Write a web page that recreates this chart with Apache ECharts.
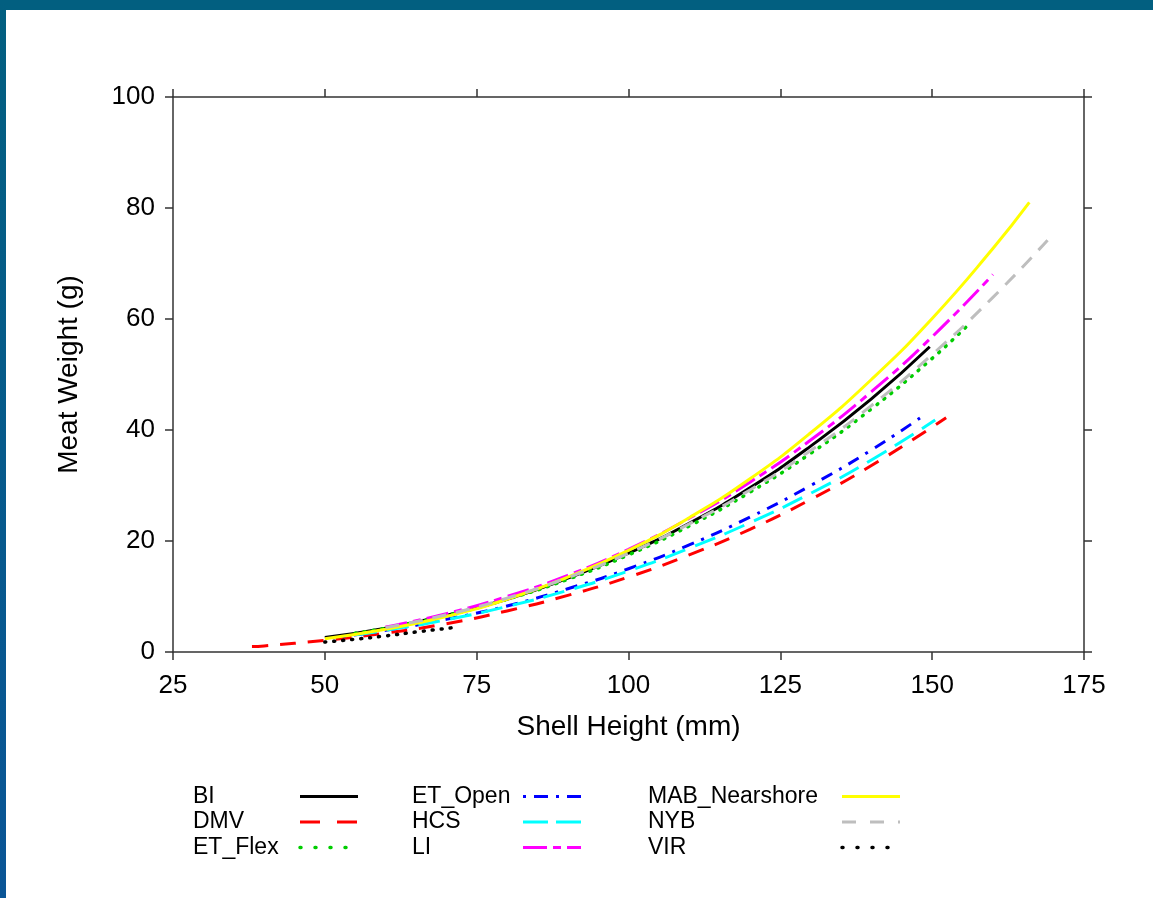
<!DOCTYPE html>
<html>
<head>
<meta charset="utf-8">
<script src="https://cdn.jsdelivr.net/npm/echarts@6/dist/echarts.min.js"></script>
<style>
  html, body { margin: 0; padding: 0; background: #fff; }
  #wrap { position: relative; width: 1153px; height: 898px; overflow: hidden; }
  #topband { position: absolute; left: 0; top: 0; width: 1153px; height: 10px; background: #025f80; }
  #leftband { position: absolute; left: 0; top: 0; width: 6px; height: 898px; background: linear-gradient(#025f80, #0a5596); }
  #chart { position: absolute; left: 0; top: 0; width: 1153px; height: 898px; }
</style>
</head>
<body>
<div id="wrap">
  <div id="chart"></div>
  <div id="topband"></div>
  <div id="leftband"></div>
</div>
<script>
// shell height (mm), meat weight (g)
const BI = [[50,2.6],[60,4.3],[70,6.6],[80,9.5],[90,13.3],[100,17.8],[110,23.2],[120,29.6],[130,37.1],[140,45.6],[149.6,55.0]];
const DMV = [[38,1.0],[40,1.1],[50,2.1],[60,3.4],[70,5.1],[80,7.4],[90,10.2],[100,13.5],[110,17.5],[120,22.1],[130,27.5],[140,33.6],[152.3,42.2]];
const ET_Flex = [[55,3.4],[60,4.3],[70,6.6],[80,9.5],[90,13.1],[100,17.5],[110,22.7],[120,28.8],[130,35.8],[140,43.8],[150,52.9],[156,59.0]];
const ET_Open = [[53,2.8],[60,3.9],[70,5.9],[80,8.3],[90,11.4],[100,15.0],[110,19.3],[120,24.3],[130,30.0],[140,36.4],[148.7,42.7]];
const HCS = [[55,3.1],[60,3.9],[70,5.8],[80,8.2],[90,11.1],[100,14.6],[110,18.7],[120,23.3],[130,28.6],[140,34.6],[150.5,41.8]];
const LI = [[60,4.5],[70,6.9],[80,10.0],[90,13.8],[100,18.5],[110,24.1],[120,30.6],[130,38.2],[140,46.9],[150,56.8],[160,68.0]];
const MAB_Nearshore = [[50,2.4],[60,4.1],[70,6.4],[80,9.5],[90,13.5],[100,18.3],[110,24.2],[120,31.2],[130,39.5],[140,49.1],[150,60.1],[160,72.7],[166,81.0]];
const NYB = [[60,4.4],[70,6.7],[80,9.7],[90,13.4],[100,17.8],[110,23.1],[120,29.2],[130,36.3],[140,44.4],[150,53.6],[160,63.9],[169,74.2]];
const VIR = [[50,1.8],[55,2.3],[60,2.9],[65,3.6],[72,4.5]];

const xTicks = [25, 175, 25];   // min, max, step
const yTicks = [0, 100, 20];

// line dash in plot, dash in legend key
const seriesDefs = [
  { name: 'BI', data: BI, color: '#000000', type: 'solid', key: 'solid' },
  { name: 'DMV', data: DMV, color: '#ff0000', type: [16, 12], key: [20, 17] },
  { name: 'ET_Flex', data: ET_Flex, color: '#00cd00', type: [1, 8], key: [1, 14], cap: 'round' },
  { name: 'ET_Open', data: ET_Open, color: '#0000ff', type: [3, 8, 12, 8], key: [3, 8, 14, 8] },
  { name: 'HCS', data: HCS, color: '#00ffff', type: [22, 10], key: [25, 8] },
  { name: 'LI', data: LI, color: '#ff00ff', type: [22, 6, 8, 6], key: [24, 6, 8, 6] },
  { name: 'MAB_Nearshore', data: MAB_Nearshore, color: '#ffff00', type: 'solid', key: 'solid' },
  { name: 'NYB', data: NYB, color: '#bebebe', type: [14, 10], key: [14, 14] },
  { name: 'VIR', data: VIR, color: '#000000', type: [1, 8], key: [1, 14], cap: 'round' }
];

const FONT = '"Liberation Sans", Arial, sans-serif';
const axisColor = '#333';

function boxAxis(pos, range, showLabels, name, isX) {
  const ax = {
    type: 'value',
    position: pos,
    min: range[0], max: range[1], interval: range[2],
    splitLine: { show: false },
    axisLine: { show: true, onZero: false, lineStyle: { color: axisColor, width: 1.5 } },
    axisTick: { show: true, inside: false, length: 8, lineStyle: { color: axisColor, width: 1.5 } },
    axisLabel: { show: showLabels, color: '#000', fontSize: 26, fontFamily: FONT, margin: isX ? 21 : 18 }
  };
  if (name) {
    ax.name = name;
    ax.nameLocation = 'middle';
    ax.nameGap = isX ? 61 : 90;
    ax.nameTextStyle = { color: '#000', fontSize: 28, fontFamily: FONT };
  }
  return ax;
}

function legendCol(names, left, textW) {
  return {
    orient: 'vertical',
    left: left, top: 785,
    padding: 0,
    align: 'right',
    data: names.map(n => {
      const d = seriesDefs.find(s => s.name === n);
      return { name: n, lineStyle: { type: d.key, cap: d.cap || 'butt', width: d.cap ? 3.5 : 3 } };
    }),
    itemWidth: 58, itemHeight: 14, itemGap: 2.5,
    selectedMode: false,
    itemStyle: { color: 'rgba(0,0,0,0)', borderWidth: 0, opacity: 0 },
    lineStyle: { width: 3 },
    formatter: '{t|{name}}',
    textStyle: {
      rich: { t: { width: textW, align: 'left', fontSize: 23, lineHeight: 22, fontFamily: FONT, color: '#000' } }
    }
  };
}

const chart = echarts.init(document.getElementById('chart'));
chart.setOption({
  animation: false,
  backgroundColor: '#fff',
  grid: { left: 173, top: 97, right: 69, bottom: 246, containLabel: false },
  xAxis: [
    boxAxis('bottom', xTicks, true, 'Shell Height (mm)', true),
    boxAxis('top', xTicks, false)
  ],
  yAxis: [
    boxAxis('left', yTicks, true, 'Meat Weight (g)', false),
    boxAxis('right', yTicks, false)
  ],
  legend: [
    legendCol(['BI', 'DMV', 'ET_Flex'], 193, 102),
    legendCol(['ET_Open', 'HCS', 'LI'], 412, 106),
    legendCol(['MAB_Nearshore', 'NYB', 'VIR'], 648, 189)
  ],
  series: seriesDefs.map(s => ({
    name: s.name,
    type: 'line',
    data: s.data,
    smooth: true,
    symbol: 'none',
    color: s.color,
    lineStyle: { color: s.color, width: s.cap ? 3.5 : 3, type: s.type, cap: s.cap || 'butt' }
  }))
});
</script>
</body>
</html>
